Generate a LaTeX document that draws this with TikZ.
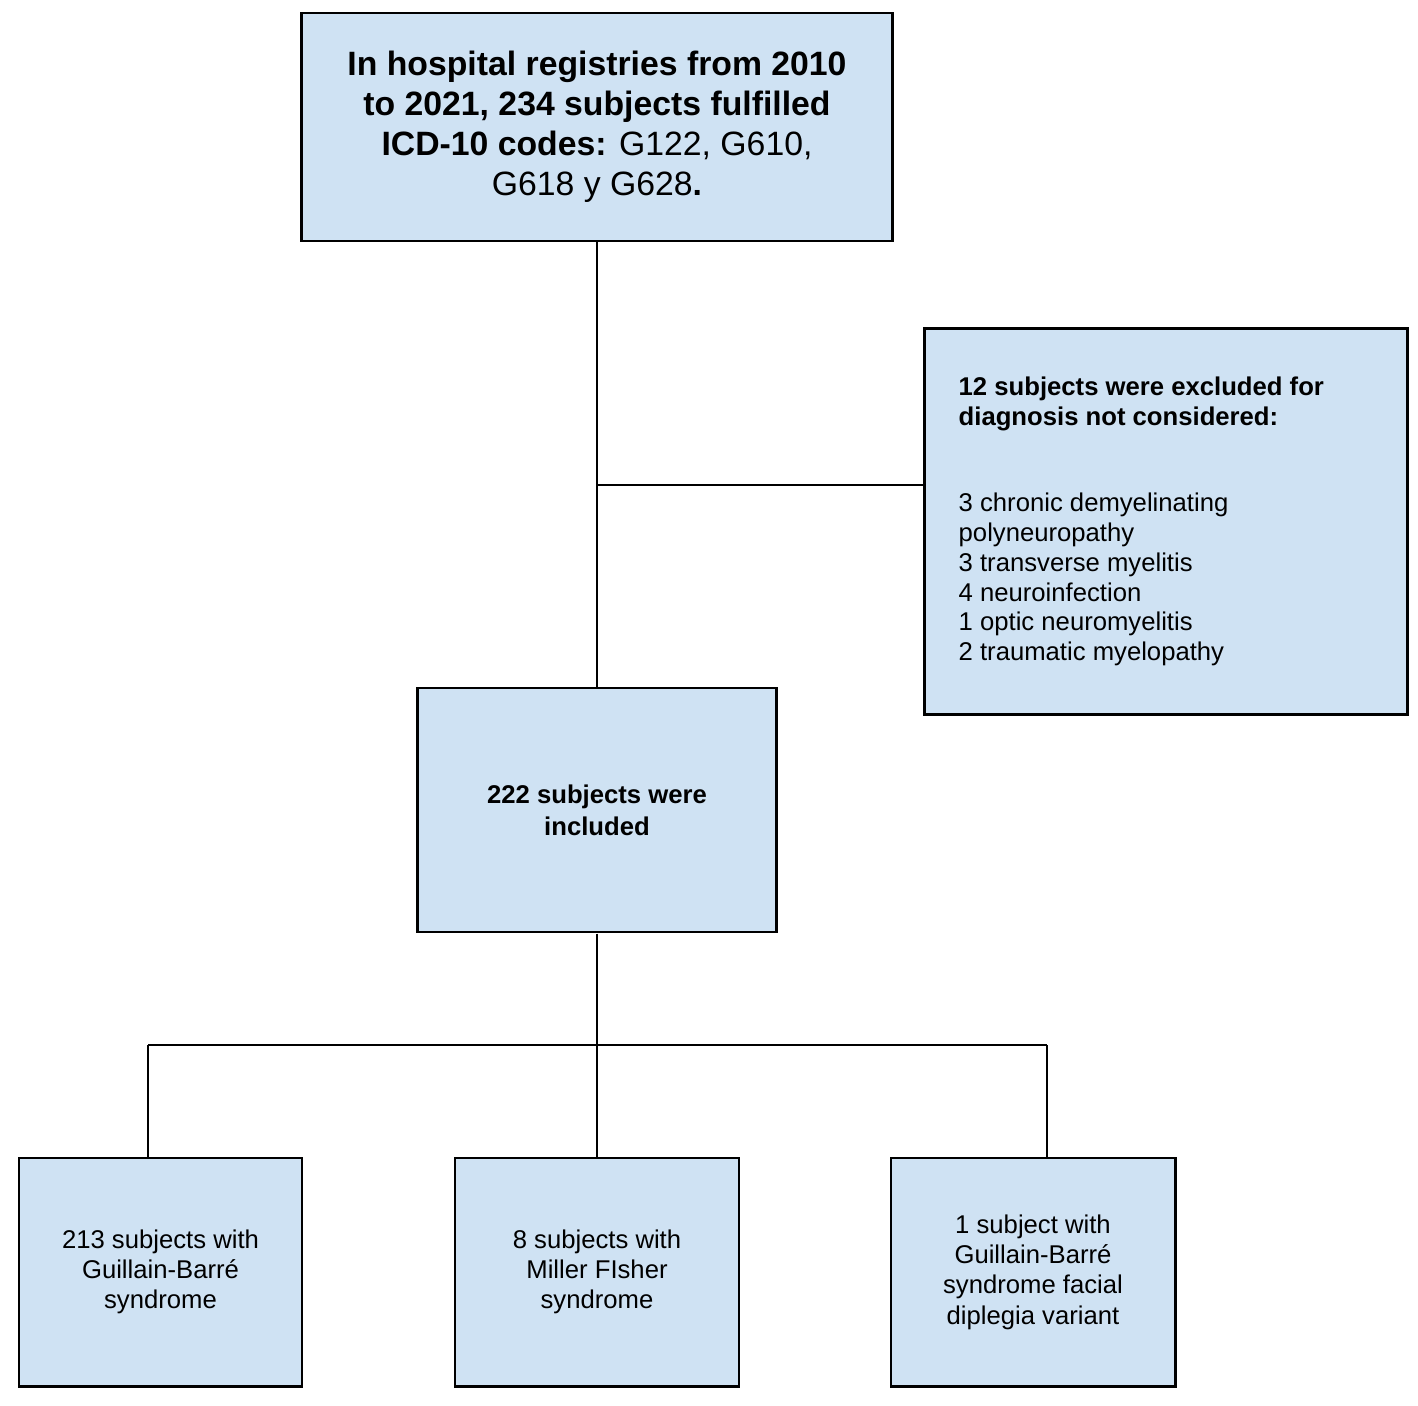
\documentclass[tikz,border=0pt]{standalone}
\usepackage{fontspec}
\setmainfont{Liberation Sans}
\definecolor{boxblue}{RGB}{207,226,243}
\begin{document}
\begin{tikzpicture}[x=0.01cm,y=-0.01cm,
    box/.style={draw, thick, fill=boxblue, align=center, inner sep=0pt},
    link/.style={thick}]
    \useasboundingbox (0,0) rectangle (1418,1405);
    % cajas
    \node[box, minimum width=5.9cm, minimum height=2.28cm,
          font=\fontsize{9.6}{11.4}\selectfont] (reg) at (597,127)
          {\textbf{In hospital registries from 2010}\\
           \textbf{to 2021, 234 subjects fulfilled}\\
           \textbf{ICD-10 codes:} G122, G610,\\
           G618 y G628\textbf{.}};
    \node[box, minimum width=4.82cm, minimum height=3.85cm] (excl) at (1166,521.5) {};
    \node[anchor=north west, align=left, inner sep=0pt,
          font=\fontsize{7.3}{8.5}\selectfont] (excltxt) at (958,376)
          {\textbf{12 subjects were excluded for}\\
           \textbf{diagnosis not considered:}\\[16pt]
           3 chronic demyelinating\\
           polyneuropathy\\
           3 transverse myelitis\\
           4 neuroinfection\\
           1 optic neuromyelitis\\
           2 traumatic myelopathy};
    \node[box, minimum width=3.58cm, minimum height=2.44cm,
          font=\fontsize{7.3}{9.1}\selectfont] (incl) at (597,810)
          {\textbf{222 subjects were}\\ \textbf{included}};
    \node[box, minimum width=2.83cm, minimum height=2.28cm,
          font=\fontsize{7.3}{8.6}\selectfont] (gbs) at (160.5,1272)
          {213 subjects with\\ Guillain-Barré\\ syndrome};
    \node[box, minimum width=2.84cm, minimum height=2.28cm,
          font=\fontsize{7.3}{8.6}\selectfont] (mfs) at (597,1272)
          {8 subjects with\\ Miller FIsher\\ syndrome};
    \node[box, minimum width=2.84cm, minimum height=2.28cm,
          font=\fontsize{7.3}{8.6}\selectfont] (fdv) at (1033,1272)
          {1 subject with\\ Guillain-Barré\\ syndrome facial\\ diplegia variant};
    % conectores
    \coordinate (split) at (597,485);
    \coordinate (fork) at (597,1045);
    \coordinate (forkL) at (148,1045);
    \coordinate (forkR) at (1047,1045);
    \draw[link] (reg.south) -- (incl.north);
    \draw[link] (split) -- (split -| excl.west);
    \draw[link] (incl.south) -- (mfs.north);
    \draw[link] (forkL) -- (forkR);
    \draw[link] (forkL) -- (forkL |- gbs.north);
    \draw[link] (forkR) -- (forkR |- fdv.north);
\end{tikzpicture}
\end{document}
